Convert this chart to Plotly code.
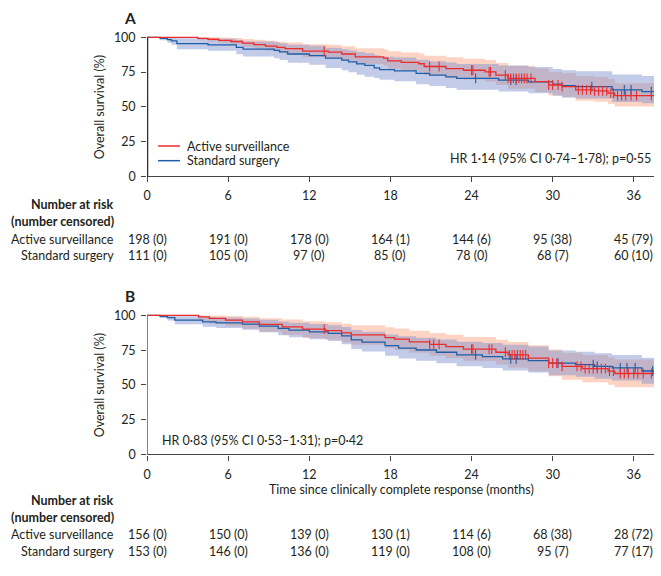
import numpy as np
import plotly.graph_objects as go

W, H = 661, 576

months = [0, 6, 12, 18, 24, 30, 36]

# ---- panel A ----
a_as_t = [0, 3.75, 4.5, 5.3, 6.2, 7.05, 7.9, 8.75, 9.6, 10.2, 11.5, 13.4, 14.4, 15.4, 17.5, 17.8,
          18.8, 20.1, 20.5, 22.1, 23.4, 25.0, 25.8, 26.7, 28.7, 29.7, 30.7, 31.7, 33.1, 34.1, 34.6, 37.5]
a_as_s = [100, 99.3, 98.6, 97.8, 97.0, 95.8, 94.8, 93.7, 92.8, 91.8, 90.0, 89.4, 88.0, 86.0, 85.0, 83.0,
          82.0, 81.0, 79.0, 77.5, 76.3, 75.1, 72.8, 70.4, 68.1, 65.7, 64.6, 62.2, 61.5, 59.9, 58.0, 58.0]
a_as_hi = [100, 100, 100, 99.9, 99.5, 98.8, 98.2, 97.5, 96.9, 96.2, 95.0, 94.6, 93.6, 92.1, 91.4, 89.9,
           89.1, 88.4, 86.8, 85.6, 84.6, 83.6, 81.6, 79.5, 77.5, 75.3, 74.3, 72.1, 71.5, 70.0, 67.0, 67.0]
a_as_lo = [100, 97.9, 96.9, 95.9, 94.8, 93.1, 91.7, 90.3, 89.1, 87.8, 85.6, 84.9, 83.2, 80.8, 79.6, 77.4,
           76.2, 75.0, 72.7, 71.0, 69.6, 68.2, 65.7, 63.0, 60.6, 58.1, 56.9, 54.4, 53.7, 52.0, 50.3, 50.3]
a_as_cens = [13.1, 20.9, 21.6, 24.0, 24.1, 25.3, 25.4, 26.5, 26.7, 26.9, 27.1, 27.3, 27.5, 27.7, 27.9,
             28.1, 28.4, 29.7, 30.0, 30.4, 30.7, 31.9, 32.2, 32.5, 32.8, 33.1, 33.4, 33.7, 34.0, 34.3,
             34.5, 34.8, 35.1, 35.4, 35.8, 36.2, 37.3]

a_ss_t = [0, 0.95, 1.5, 1.8, 2.2, 4.5, 6.6, 7.1, 9.4, 9.8, 10.4, 12.0, 13.2, 14.4, 14.9, 15.5, 16.1,
          16.8, 17.2, 18.3, 19.9, 20.9, 22.1, 22.9, 26.0, 28.2, 30.0, 30.7, 31.7, 34.4, 36.6, 37.5]
a_ss_s = [100, 99.3, 98.4, 97.4, 95.5, 94.6, 92.7, 91.5, 90.6, 89.6, 88.0, 86.9, 85.0, 83.6, 82.4, 80.9, 79.8,
          78.0, 76.8, 75.9, 74.0, 72.8, 71.6, 70.4, 69.2, 68.0, 66.4, 65.3, 64.6, 62.2, 61.0, 61.0]
a_ss_hi = [100, 100, 100, 99.9, 99.4, 98.9, 97.8, 97.0, 96.4, 95.7, 94.6, 93.9, 92.5, 91.4, 90.5, 89.4, 88.5,
           87.1, 86.1, 85.4, 83.8, 82.8, 81.8, 80.8, 79.7, 78.7, 77.3, 76.3, 75.6, 73.3, 72.2, 72.2]
a_ss_lo = [100, 97.8, 96.1, 94.6, 91.5, 90.3, 87.8, 86.2, 85.0, 83.7, 81.7, 80.3, 78.0, 76.3, 74.8, 73.0, 71.6,
           70.7, 69.4, 68.4, 66.3, 65.0, 63.6, 62.3, 61.0, 59.7, 58.0, 56.8, 56.0, 53.5, 52.5, 52.5]
a_ss_cens = [24.3, 26.9, 27.3, 32.9, 35.3, 35.8, 37.3]

a_as_risk = [198, 191, 178, 164, 144, 95, 45]
a_as_cnum = [0, 0, 0, 1, 6, 38, 79]
a_ss_risk = [111, 105, 97, 85, 78, 68, 60]
a_ss_cnum = [0, 0, 0, 0, 0, 7, 10]

# ---- panel B ----
b_as_t = [0, 3.8, 4.6, 5.8, 7.05, 8.3, 10.0, 11.5, 13.2, 14.4, 15.1, 17.6, 18.3, 19.4, 20.9, 22.1, 23.4,
          25.8, 26.7, 28.2, 29.7, 30.7, 32.2, 34.1, 34.6, 37.5]
b_as_s = [100, 98.9, 97.8, 96.6, 95.3, 93.5, 91.8, 90.1, 89.0, 87.5, 86.0, 84.0, 83.0, 81.0, 79.1, 77.5, 75.8,
          73.5, 71.6, 69.2, 65.7, 63.4, 61.7, 59.9, 58.2, 58.2]
b_as_hi = [100, 100, 100, 99.6, 99.0, 98.0, 97.0, 95.8, 95.0, 94.0, 92.9, 91.4, 90.6, 89.0, 87.4, 86.0, 84.5,
           82.5, 80.8, 78.6, 75.4, 73.2, 71.6, 69.9, 68.3, 68.3]
b_as_lo = [100, 95.9, 94.1, 92.2, 90.4, 88.2, 85.9, 83.8, 82.4, 80.7, 78.9, 76.5, 75.3, 73.1, 70.9, 69.1, 67.2,
           64.6, 62.5, 59.9, 56.2, 53.8, 52.0, 50.1, 48.4, 48.4]
b_as_cens = [13.1, 20.9, 21.2, 21.6, 24.0, 24.1, 25.3, 25.5, 26.5, 26.8, 27.0, 27.2, 27.4, 27.6, 27.8,
             28.0, 29.7, 30.0, 30.3, 30.7, 31.8, 32.1, 32.4, 32.7, 33.0, 33.3, 33.6, 33.9, 34.2, 34.5,
             35.0, 35.3, 35.6, 36.0, 36.3, 36.7, 37.3]

b_ss_t = [0, 0.95, 1.5, 2.05, 4.1, 5.1, 7.05, 8.3, 9.7, 10.5, 12.0, 13.4, 14.4, 15.1, 15.9, 17.6, 18.6,
          19.9, 21.4, 22.9, 24.8, 26.3, 28.2, 29.7, 31.7, 33.1, 34.4, 36.6, 37.5]
b_ss_s = [100, 99.3, 98.4, 96.6, 95.3, 94.6, 93.7, 92.3, 90.6, 89.4, 88.2, 87.1, 85.2, 82.4, 80.8, 78.2, 76.5,
          75.1, 73.5, 71.6, 70.4, 68.8, 67.4, 65.7, 64.6, 63.4, 62.2, 60.0, 60.0]
b_ss_hi = [100, 100, 99.9, 99.4, 98.8, 98.4, 97.8, 96.8, 95.6, 94.7, 93.8, 93.0, 91.6, 89.5, 88.3, 86.3, 85.0,
           83.9, 82.6, 81.1, 80.1, 78.9, 77.7, 74.8, 73.8, 72.7, 71.6, 69.6, 69.6]
b_ss_lo = [100, 97.9, 96.4, 93.7, 91.9, 91.0, 89.7, 87.9, 85.8, 84.3, 82.8, 81.5, 79.2, 75.8, 74.0, 70.9, 69.0,
           67.4, 65.6, 63.5, 62.2, 60.4, 58.9, 57.0, 55.8, 54.5, 53.2, 50.8, 50.8]
b_ss_cens = [24.3, 26.9, 27.3, 30.4, 33.0, 33.3, 35.0, 35.5, 36.1, 37.4]

b_as_risk = [156, 150, 139, 130, 114, 68, 28]
b_as_cnum = [0, 0, 0, 1, 6, 38, 72]
b_ss_risk = [153, 146, 136, 119, 108, 95, 77]
b_ss_cnum = [0, 0, 0, 0, 0, 7, 17]

RED = "#ee2b2b"
BLUE = "#1d5ea8"
RED_BAND = "rgba(250,150,112,0.42)"
BLUE_BAND = "rgba(128,146,206,0.48)"
TXT = "#231f20"
FONT = "Lato"


def px_x(x):
    return x / W


def px_y(y):
    return 1 - y / H


def step_val(t, s, tc):
    i = np.searchsorted(np.array(t), np.array(tc), side="right") - 1
    return np.array(s)[i]


fig = go.Figure()


def add_panel(xa, ya, curves):
    # bands first
    for t, s, hi, lo, cens, band, col in curves:
        fig.add_trace(go.Scatter(x=t, y=lo, mode="lines", line=dict(width=0, shape="hv"),
                                 xaxis=xa, yaxis=ya, showlegend=False, hoverinfo="skip"))
        fig.add_trace(go.Scatter(x=t, y=hi, mode="lines", line=dict(width=0, shape="hv"),
                                 fill="tonexty", fillcolor=band,
                                 xaxis=xa, yaxis=ya, showlegend=False, hoverinfo="skip"))
    for t, s, hi, lo, cens, band, col in curves[::-1]:
        fig.add_trace(go.Scatter(x=t, y=s, mode="lines", line=dict(width=1.3, color=col, shape="hv"),
                                 xaxis=xa, yaxis=ya, showlegend=False))
        fig.add_trace(go.Scatter(x=cens, y=step_val(t, s, cens), mode="markers",
                                 marker=dict(symbol="line-ns", size=7, line=dict(width=1.1, color=col)),
                                 xaxis=xa, yaxis=ya, showlegend=False))


add_panel("x", "y", [
    (a_as_t, a_as_s, a_as_hi, a_as_lo, a_as_cens, RED_BAND, RED),
    (a_ss_t, a_ss_s, a_ss_hi, a_ss_lo, a_ss_cens, BLUE_BAND, BLUE),
])
add_panel("x2", "y2", [
    (b_as_t, b_as_s, b_as_hi, b_as_lo, b_as_cens, RED_BAND, RED),
    (b_ss_t, b_ss_s, b_ss_hi, b_ss_lo, b_ss_cens, BLUE_BAND, BLUE),
])

ppu = 1.42  # pixels per percent
x_dom = [px_x(144), px_x(654)]
xax = dict(range=[0, 37.5], domain=x_dom, tickvals=months, ticks="outside", ticklen=5,
           tickcolor="#444", showline=True, linecolor="#444", linewidth=1.2, showgrid=False,
           zeroline=False, tickfont=dict(size=12.5, color=TXT), ticklabelstandoff=3)
yax = dict(range=[0, 101.5], tickvals=[0, 25, 50, 75, 100], ticks="outside", ticklen=5,
           tickcolor="#444", showline=False, showgrid=False, zeroline=False,
           tickfont=dict(size=12.5, color=TXT), ticklabelstandoff=3)

fig.update_layout(
    width=W, height=H, margin=dict(l=0, r=0, t=0, b=0),
    paper_bgcolor="white", plot_bgcolor="white",
    font=dict(family=FONT, size=12.5, color=TXT),
    showlegend=False,
    xaxis=dict(xax, anchor="y"),
    yaxis=dict(yax, anchor="x", domain=[px_y(175), px_y(175 - 101.5 * ppu)]),
    xaxis2=dict(xax, anchor="y2"),
    yaxis2=dict(yax, anchor="x2", domain=[px_y(459), px_y(459 - 101.5 * ppu)]),
)

shapes = [
    dict(type="line", xref="x", yref="y", x0=0, x1=0, y0=0, y1=100, line=dict(color="#111", width=2.2)),
    dict(type="line", xref="x2", yref="y2", x0=0, x1=0, y0=0, y1=100, line=dict(color="#555", width=1.4)),
    dict(type="line", xref="paper", yref="paper", x0=px_x(155), x1=px_x(177), y0=px_y(144), y1=px_y(144),
         line=dict(color=RED, width=1.5)),
    dict(type="line", xref="paper", yref="paper", x0=px_x(155), x1=px_x(177), y0=px_y(159), y1=px_y(159),
         line=dict(color=BLUE, width=1.5)),
]

ann = []


def text(x, y, s, anchor="left", size=12.5, xref="paper", **kw):
    ann.append(dict(x=px_x(x) if xref == "paper" else x, y=px_y(y), xref=xref, yref="paper", text=s,
                    showarrow=False, xanchor=anchor, yanchor="middle", font=dict(size=size, color=TXT), **kw))


text(127, 13, "<b>A</b>", "center", 15.5)
text(127, 297, "<b>B</b>", "center", 15.5)
text(96, 104, "Overall survival (%)", "center", textangle=-90)
text(96, 388, "Overall survival (%)", "center", textangle=-90)
text(182, 144, "Active surveillance")
text(182, 159, "Standard surgery")
text(653, 157, "HR 1·14 (95% CI 0·74–1·78); p=0·55", "right")
text(157, 445, "HR 0·83 (95% CI 0·53–1·31); p=0·42", "left")
text(400, 495, "Time since clinically complete response (months)", "center")


def risk_table(y0, xref, as_risk, as_c, ss_risk, ss_c):
    text(113, y0, "<b>Number at risk</b>", "right")
    text(113, y0 + 17, "<b>(number censored)</b>", "right")
    text(113, y0 + 35, "Active surveillance", "right")
    text(113, y0 + 52, "Standard surgery", "right")
    for m, n, c in zip(months, as_risk, as_c):
        text(m, y0 + 35, f"{n} ({c})", "center", xref=xref)
    for m, n, c in zip(months, ss_risk, ss_c):
        text(m, y0 + 52, f"{n} ({c})", "center", xref=xref)


risk_table(204, "x", a_as_risk, a_as_cnum, a_ss_risk, a_ss_cnum)
risk_table(506, "x2", b_as_risk, b_as_cnum, b_ss_risk, b_ss_cnum)

fig.update_layout(shapes=shapes, annotations=ann)
# drop the browser's default body margin so the 661x576 figure fills the window exactly
fig.write_html("out.html", config={"displayModeBar": False},
               post_script="document.body.style.margin='0';document.body.style.overflow='hidden';")
